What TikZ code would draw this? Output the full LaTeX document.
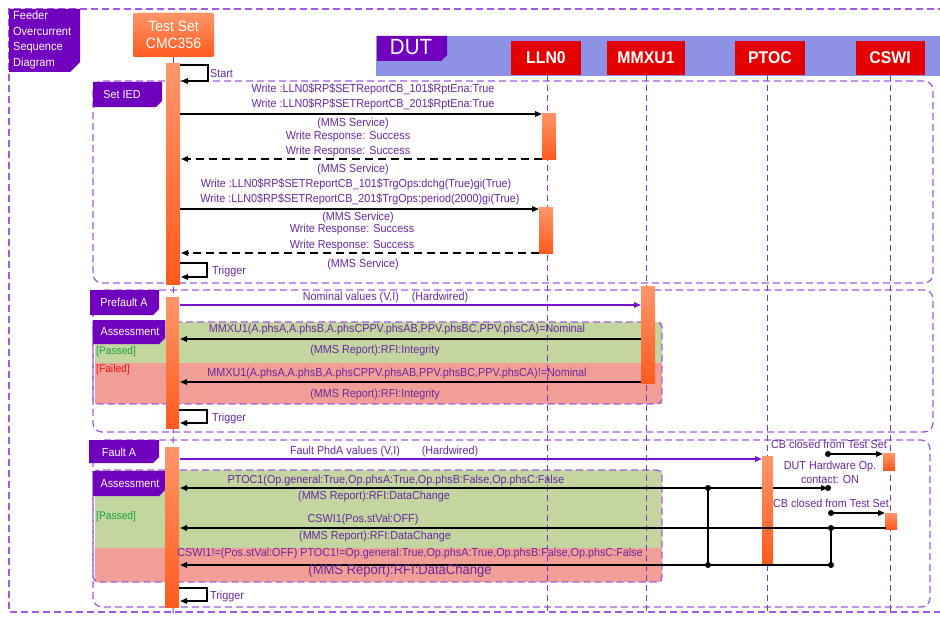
\documentclass[tikz,border=0pt]{standalone}
\usepackage{fontspec}
\setmainfont{Liberation Sans}[FakeStretch=0.93]
\usetikzlibrary{arrows.meta}
\definecolor{fr}{RGB}{160,90,230}
\definecolor{ll}{RGB}{125,55,185}
\definecolor{lp}{RGB}{112,0,190}
\definecolor{mt}{RGB}{105,40,160}
\definecolor{pa}{RGB}{120,20,205}
\definecolor{orA}{RGB}{255,150,105}
\definecolor{orB}{RGB}{255,90,30}
\definecolor{rb}{RGB}{228,0,0}
\definecolor{band}{RGB}{142,146,230}
\definecolor{gf}{RGB}{196,214,160}
\definecolor{rf}{RGB}{240,158,150}
\definecolor{pg}{RGB}{20,160,60}
\definecolor{fl}{RGB}{240,20,20}
\tikzset{
  framebox/.style={draw=fr, dash pattern=on 7pt off 4pt, line width=1.3pt, rounded corners=9pt},
  life/.style={draw=ll, dash pattern=on 6pt off 4pt, line width=1pt},
  actbar/.style={top color=orA, bottom color=orB, draw=none},
  msg/.style={text=mt, inner sep=0pt, font=\fontsize{11.6}{13}\selectfont},
  arr/.style={line width=1.6pt, -{Triangle[length=7pt,width=5.5pt]}},
  retarr/.style={arr, dash pattern=on 8pt off 5pt},
  parr/.style={arr, draw=pa, line width=1.4pt, -{Triangle[length=7pt,width=5.5pt,fill=pa]}},
  lbltext/.style={text=white, inner sep=0pt, font=\fontsize{11.6}{13}\selectfont},
  objbox/.style={fill=rb, text=white, inner sep=0pt, minimum height=34pt, font=\bfseries\fontsize{17}{19}\selectfont},
  dotm/.style={fill=black},
}
\begin{document}
\begin{tikzpicture}[x=1pt,y=-1pt]
\useasboundingbox (0,0) rectangle (940,618);
% outer frame
\draw[draw=fr, dash pattern=on 7pt off 4pt, line width=1.3pt] (945,9) -- (9,9) -- (9,612) -- (945,612);
% DUT band
\fill[band] (376,36) rectangle (940,76);
% sections
\draw[framebox] (93,81) rectangle (933,283);
\draw[framebox] (93,290) rectangle (933,432);
\draw[framebox] (93,440) rectangle (930,607);
% assessment fills
\fill[gf] (95,322) rectangle (662,363);
\fill[rf] (95,363) rectangle (662,404);
\fill[gf] (95,470) rectangle (662,548);
\fill[rf] (95,548) rectangle (662,582);
\draw[framebox, rounded corners=6pt] (93,322) rectangle (662,404);
\draw[framebox, rounded corners=6pt] (93,470) rectangle (662,582);
% header objects
\node[fill=orB, top color=orA, bottom color=orB, rounded corners=2pt, minimum width=81pt, minimum height=44pt, inner sep=0pt, text=white, align=center, font=\fontsize{15}{17.5}\selectfont] (ts) at (173.5,35) {Test Set\\CMC356};
\node[objbox, minimum width=70pt] (lln0) at (546,58) {LLN0};
\node[objbox, minimum width=78pt] (mmxu) at (646,58) {MMXU1};
\node[objbox, minimum width=70pt] (ptoc) at (770,58) {PTOC};
\node[objbox, minimum width=69pt] (cswi) at (890,58) {CSWI};
% lifelines
\coordinate (tsEnd) at (173,615);
\draw[life] (ts.south) -- (tsEnd);
\draw[life] (547,75) -- (547,615);
\draw[life] (mmxu.south) -- (646,615);
\draw[life] (767,75) -- (767,615);
\draw[life] (cswi.south) -- (890,615);
% label tabs
\fill[lp] (9,9) -- (80,9) -- (80,62) -- (70,72) -- (9,72) -- cycle;
\node[lbltext, anchor=north west, align=left, font=\fontsize{11.8}{15.5}\selectfont] (title) at (13,11) {Feeder\\Overcurrent\\Sequence\\Diagram};
\fill[lp] (377,36) -- (447,36) -- (447,55) -- (441,61) -- (377,61) -- cycle;
\node[lbltext, font=\fontsize{22}{24}\selectfont] (dut) at (411,47) {DUT};
\fill[lp] (93,82) -- (162,82) -- (162,101) -- (156,107) -- (93,107) -- cycle;
\node[lbltext] (setied) at (122,95) {Set IED};
\fill[lp] (90,290) -- (159,290) -- (159,309) -- (153,315) -- (90,315) -- cycle;
\node[lbltext] (pfa) at (124,302) {Prefault A};
\fill[lp] (93,320) -- (165,320) -- (165,338) -- (159,344) -- (93,344) -- cycle;
\node[lbltext] (ass1) at (130,332) {Assessment};
\fill[lp] (89,440) -- (159,440) -- (159,457) -- (153,463) -- (89,463) -- cycle;
\node[lbltext] (fa) at (119,452) {Fault A};
\fill[lp] (93,471) -- (165,471) -- (165,490) -- (159,496) -- (93,496) -- cycle;
\node[lbltext] (ass2) at (130,484) {Assessment};
\node[inner sep=0pt, text=pg, anchor=west, font=\fontsize{11}{12}\selectfont] (pass1) at (96,352) {[Passed]};
\node[inner sep=0pt, text=fl, anchor=west, font=\fontsize{11}{12}\selectfont] (fail1) at (96,370) {[Failed]};
\node[inner sep=0pt, text=pg, anchor=west, font=\fontsize{11}{12}\selectfont] (pass2) at (96,517) {[Passed]};
% activation bars
\path[actbar] (166,64) rectangle (180,284);
\path[actbar] (166,297) rectangle (179,428);
\path[actbar] (165,447) rectangle (179,607);
\path[actbar] (542,113) rectangle (556,159);
\path[actbar] (539,207) rectangle (553,253);
\path[actbar] (641,286) rectangle (655,383);
\path[actbar] (762,456) rectangle (773,565);
\path[actbar] (883,453) rectangle (895,470);
\path[actbar] (885,513) rectangle (897,529);
% self loops
\coordinate (s0) at (180,65); \coordinate (s1) at (208,65); \coordinate (s2) at (208,81); \coordinate (s3) at (181,81);
\draw[arr] (s0) -- (s1) -- (s2) -- (s3);
\node[msg, anchor=west] (start) at (210,74) {Start};
\coordinate (g0) at (180,263); \coordinate (g1) at (207,263); \coordinate (g2) at (207,277); \coordinate (g3) at (181,277);
\draw[arr] (g0) -- (g1) -- (g2) -- (g3);
\node[msg, anchor=west] (trig1) at (212,271) {Trigger};
\coordinate (h0) at (179,410); \coordinate (h1) at (207,410); \coordinate (h2) at (207,423); \coordinate (h3) at (180,423);
\draw[arr] (h0) -- (h1) -- (h2) -- (h3);
\node[msg, anchor=west] (trig2) at (212,418) {Trigger};
\coordinate (k0) at (179,588); \coordinate (k1) at (207,588); \coordinate (k2) at (207,601); \coordinate (k3) at (180,601);
\draw[arr] (k0) -- (k1) -- (k2) -- (k3);
\node[msg, anchor=west] (trig3) at (210,596) {Trigger};
% Set IED messages
\coordinate (a1) at (180,114); \coordinate (b1) at (542,114);
\draw[arr] (a1) -- (b1);
\coordinate (a2) at (542,159); \coordinate (b2) at (181,159);
\draw[retarr] (a2) -- (b2);
\coordinate (a3) at (180,209); \coordinate (b3) at (539,209);
\draw[arr] (a3) -- (b3);
\coordinate (a4) at (539,253); \coordinate (b4) at (181,253);
\draw[retarr] (a4) -- (b4);
\node[msg] (m1) at (373,89) {Write :LLN0\$RP\$SETReportCB\_101\$RptEna:True};
\node[msg] (m2) at (373,104) {Write :LLN0\$RP\$SETReportCB\_201\$RptEna:True};
\node[msg] (m3) at (353,123) {(MMS Service)};
\node[msg] (m4) at (348,137) {Write Response: Success};
\node[msg] (m5) at (348,152) {Write Response: Success};
\node[msg] (m6) at (353,169) {(MMS Service)};
\node[msg] (m7) at (356,184) {Write :LLN0\$RP\$SETReportCB\_101\$TrgOps:dchg(True)gi(True)};
\node[msg] (m8) at (360,199) {Write :LLN0\$RP\$SETReportCB\_201\$TrgOps:period(2000)gi(True)};
\node[msg] (m9) at (358,217) {(MMS Service)};
\node[msg] (m10) at (352,229) {Write Response: Success};
\node[msg] (m11) at (352,245) {Write Response: Success};
\node[msg] (m12) at (363,264) {(MMS Service)};
% Prefault
\coordinate (n0) at (180,305); \coordinate (n1) at (641,305);
\draw[parr] (n0) -- (n1);
\node[msg] (nv) at (351,297) {Nominal values (V,I)};
\node[msg] (hw1) at (440,297) {(Hardwired)};
\coordinate (r1) at (641,339); \coordinate (r1e) at (180,339);
\draw[arr] (r1) -- (r1e);
\coordinate (r2) at (641,382); \coordinate (r2e) at (180,382);
\draw[arr] (r2) -- (r2e);
\node[msg] (q1) at (397,329) {MMXU1(A.phsA,A.phsB,A.phsCPPV.phsAB,PPV.phsBC,PPV.phsCA)=Nominal};
\node[msg] (q2) at (375,350) {(MMS Report):RFI:Integrity};
\node[msg] (q3) at (397,373) {MMXU1(A.phsA,A.phsB,A.phsCPPV.phsAB,PPV.phsBC,PPV.phsCA)!=Nominal};
\node[msg] (q4) at (375,394) {(MMS Report):RFI:Integrity};
% Fault
\coordinate (f0) at (180,459); \coordinate (f1) at (762,459);
\draw[parr] (f0) -- (f1);
\node[msg] (fv) at (345,451) {Fault PhdA values (V,I)};
\node[msg] (hw2) at (450,451) {(Hardwired)};
\coordinate (p0) at (762,488); \coordinate (p0e) at (180,488);
\draw[arr] (p0) -- (p0e);
\coordinate (c0) at (886,528); \coordinate (c0e) at (180,528);
\draw[arr] (c0) -- (c0e);
\coordinate (d831) at (831,565); \coordinate (d831e) at (180,565);
\draw[arr] (d831) -- (d831e);
\coordinate (v708a) at (708,488); \coordinate (v708b) at (708,565);
\coordinate (v831a) at (831,528);
\draw[line width=1.6pt] (v708a) -- (v708b);
\draw[line width=1.6pt] (v831a) -- (d831);
\coordinate (hwo0) at (773,488); \coordinate (hwo1) at (828,488);
\draw[arr] (hwo0) -- (hwo1);
\coordinate (cb1) at (828,454); \coordinate (cb1e) at (883,454);
\draw[arr] (cb1) -- (cb1e);
\coordinate (cb2) at (831,513); \coordinate (cb2e) at (885,513);
\draw[arr] (cb2) -- (cb2e);
\foreach \p in {v708a,v708b,v831a,d831,hwo1,cb1,cb2} \fill[dotm] (\p) circle (3pt);
\node[msg] (cbt1) at (829,444) {CB closed from Test Set};
\node[msg] (dho) at (830,466) {DUT Hardware Op.};
\node[msg] (con) at (830,480) {contact: ON};
\node[msg] (cbt2) at (831,503) {CB closed from Test Set};
\node[msg] (u1) at (396,480) {PTOC1(Op.general:True,Op.phsA:True,Op.phsB:False,Op.phsC:False};
\node[msg] (u2) at (374,496) {(MMS Report):RFI:DataChange};
\node[msg] (u3) at (363,519) {CSWI1(Pos.stVal:OFF)};
\node[msg] (u4) at (375,536) {(MMS Report):RFI:DataChange};
\node[msg] (u5) at (410,553) {CSWI1!=(Pos.stVal:OFF) PTOC1!=Op.general:True,Op.phsA:True,Op.phsB:False,Op.phsC:False};
\node[msg, font=\fontsize{14}{16}\selectfont] (u6) at (400,571) {(MMS Report):RFI:DataChange};
\end{tikzpicture}
\end{document}
